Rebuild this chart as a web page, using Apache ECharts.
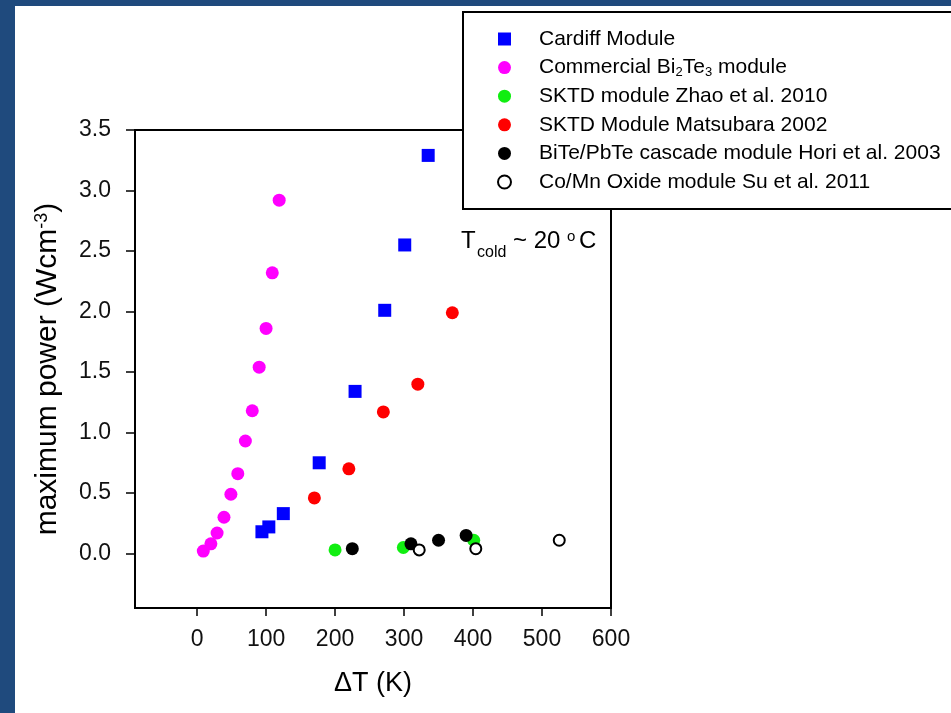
<!DOCTYPE html>
<html><head><meta charset="utf-8">
<script src="https://cdn.jsdelivr.net/npm/echarts@6/dist/echarts.min.js"></script>
<style>html,body{margin:0;padding:0;background:#1f4a7d;} #c{width:951px;height:713px;}</style>
</head><body><div id="c"></div>
<script>
// ---- data ----
const seriesNames = [
  'Cardiff Module',
  'Commercial Bi2Te3 module',
  'SKTD module Zhao et al. 2010',
  'SKTD Module Matsubara 2002',
  'BiTe/PbTe cascade module Hori et al. 2003',
  'Co/Mn Oxide module Su et al. 2011'
];
const cardiffX = [94, 104, 125, 177, 229, 272, 301, 335];
const cardiffY = [0.18, 0.22, 0.33, 0.75, 1.34, 2.01, 2.55, 3.29];
const bi2te3X = [9, 20, 29, 39, 49, 59, 70, 80, 90, 100, 109, 119];
const bi2te3Y = [0.02, 0.08, 0.17, 0.30, 0.49, 0.66, 0.93, 1.18, 1.54, 1.86, 2.32, 2.92];
const zhaoX = [200, 299, 401];
const zhaoY = [0.03, 0.05, 0.11];
const matsubaraX = [170, 220, 270, 320, 370];
const matsubaraY = [0.46, 0.70, 1.17, 1.40, 1.99];
const horiX = [225, 310, 350, 390];
const horiY = [0.04, 0.08, 0.11, 0.15];
const suX = [322, 404, 525];
const suY = [0.03, 0.04, 0.11];
const xTicks = [0, 100, 200, 300, 400, 500, 600];
const yTicks = [0, 0.5, 1.0, 1.5, 2.0, 2.5, 3.0, 3.5];

const zip = (xs, ys) => xs.map((x, i) => [x, ys[i]]);
const FONT = '"Liberation Sans", Arial, sans-serif';

const chart = echarts.init(document.getElementById('c'), null, {renderer: 'canvas'});

function sc(name, xs, ys, symbol, size, itemStyle) {
  return {
    type: 'scatter', name: name, data: zip(xs, ys),
    symbol: symbol, symbolSize: size, itemStyle: Object.assign({opacity: 1}, itemStyle),
    emphasis: {disabled: true}
  };
}

chart.setOption({
  animation: false,
  backgroundColor: '#1f4a7d',
  textStyle: {fontFamily: FONT},
  grid: {left: 135, right: 340, top: 130, bottom: 105, show: true,
         borderColor: '#000', borderWidth: 2, backgroundColor: 'transparent'},
  xAxis: {
    type: 'value', min: -90, max: 600,
    name: 'ΔT (K)', nameLocation: 'middle', nameGap: 62,
    nameTextStyle: {fontSize: 27, color: '#000', fontFamily: FONT},
    axisLine: {show: true, onZero: false, lineStyle: {color: '#000', width: 2}},
    axisTick: {show: true, inside: false, length: 8, customValues: xTicks,
               lineStyle: {color: '#000', width: 1.5}},
    axisLabel: {customValues: xTicks, margin: 20, fontSize: 23, color: '#111', fontFamily: FONT},
    splitLine: {show: false}
  },
  yAxis: {
    type: 'value', min: -0.45, max: 3.5,
    name: 'maximum power (Wcm{sup|-3})', nameLocation: 'middle', nameGap: 72,
    nameTextStyle: {fontSize: 30, color: '#000', fontFamily: FONT,
      rich: {sup: {fontSize: 18, verticalAlign: 'top', lineHeight: 10, color: '#000', fontFamily: FONT}}},
    axisLine: {show: true, onZero: false, lineStyle: {color: '#000', width: 2}},
    axisTick: {show: true, inside: false, length: 9, customValues: yTicks,
               lineStyle: {color: '#000', width: 1.5}},
    axisLabel: {customValues: yTicks, margin: 24, fontSize: 23, color: '#111', fontFamily: FONT,
                formatter: v => Number(v).toFixed(1)},
    splitLine: {show: false}
  },
  legend: {
    orient: 'vertical', left: 463, top: 12,
    padding: [16, 40, 16, 34],
    backgroundColor: '#fff', borderColor: '#000', borderWidth: 2, borderRadius: 0,
    itemWidth: 13, itemHeight: 13, itemGap: 6.6,
    data: seriesNames,
    textStyle: {fontSize: 21, color: '#000', fontFamily: FONT, lineHeight: 22,
      rich: {
        gap: {width: 23},
        sub: {fontSize: 13, verticalAlign: 'bottom', lineHeight: 8, color: '#000', fontFamily: FONT}
      }},
    formatter: function (name) {
      if (name === 'Commercial Bi2Te3 module') return '{gap|}Commercial Bi{sub|2}Te{sub|3} module';
      return '{gap|}' + name;
    },
    selectedMode: false
  },
  graphic: [
    {type: 'rect', z: -100, silent: true, shape: {x: 15, y: 6, width: 940, height: 710}, style: {fill: '#fff'}},
    {type: 'text', z: 10, x: 461, y: 241.5, style: {text: 'T', fontSize: 24, fontFamily: FONT, fill: '#000', verticalAlign: 'middle'}},
    {type: 'text', z: 10, x: 477, y: 253, style: {text: 'cold', fontSize: 16, fontFamily: FONT, fill: '#000', verticalAlign: 'middle'}},
    {type: 'text', z: 10, x: 513, y: 241.5, style: {text: '~ 20', fontSize: 24, fontFamily: FONT, fill: '#000', verticalAlign: 'middle'}},
    {type: 'text', z: 10, x: 567, y: 236.5, style: {text: 'o', fontSize: 15, fontFamily: FONT, fill: '#000', verticalAlign: 'middle'}},
    {type: 'text', z: 10, x: 579, y: 241.5, style: {text: 'C', fontSize: 24, fontFamily: FONT, fill: '#000', verticalAlign: 'middle'}}
  ],
  series: [
    sc(seriesNames[0], cardiffX, cardiffY, 'rect', 13, {color: '#0000ff'}),
    sc(seriesNames[1], bi2te3X, bi2te3Y, 'circle', 13, {color: '#ff00ff'}),
    sc(seriesNames[2], zhaoX, zhaoY, 'circle', 13, {color: '#11ee11'}),
    sc(seriesNames[3], matsubaraX, matsubaraY, 'circle', 13, {color: '#ff0000'}),
    sc(seriesNames[4], horiX, horiY, 'circle', 13, {color: '#000000'}),
    sc(seriesNames[5], suX, suY, 'circle', 11, {color: '#ffffff', borderColor: '#000', borderWidth: 2})
  ]
});
</script></body></html>
